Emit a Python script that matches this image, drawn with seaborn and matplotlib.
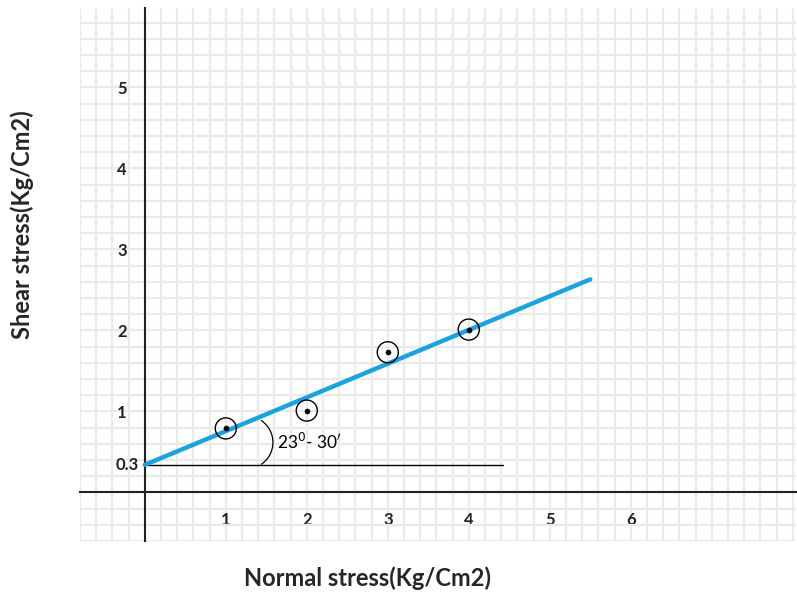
import matplotlib
matplotlib.use("Agg")
import matplotlib.pyplot as plt
from matplotlib.patches import Arc
from matplotlib.ticker import MultipleLocator
import seaborn as sns
import pandas as pd

# test readings
normal_stress = [1, 2, 3, 4]
shear_stress = [0.79, 1.01, 1.73, 2.01]

# failure envelope (drawn by hand in the original)
fit_x = [0, 5.5]
fit_y = [0.34, 2.63]
cohesion = 0.34
base_end = 4.42

x_ticks = [1, 2, 3, 4, 5, 6]
y_ticks = [1, 2, 3, 4, 5]

sns.set_style("white")
plt.rcParams["font.family"] = ["Lato", "DejaVu Sans"]

fig = plt.figure(figsize=(7.97, 5.94), dpi=100)
ax = fig.add_axes([80 / 797, 53 / 594, 716 / 797, 533 / 594])
ax.set_xlim(-0.8, 8.04)
ax.set_ylim(-0.6, 5.98)

# graph paper
ax.xaxis.set_minor_locator(MultipleLocator(0.2))
ax.yaxis.set_minor_locator(MultipleLocator(0.2))
ax.grid(which="both", color="#eaeaea", linewidth=1.6)
ax.set_axisbelow(True)

# axes through the origin
for side in ["top", "right"]:
    ax.spines[side].set_visible(False)
ax.spines["left"].set_position(("data", 0))
ax.spines["bottom"].set_position(("data", 0))
for side in ["left", "bottom"]:
    ax.spines[side].set_color("#222222")
    ax.spines[side].set_linewidth(1.5)
    ax.spines[side].set_zorder(1)

ax.set_xticks(x_ticks)
ax.set_yticks(y_ticks)
ax.set_xticklabels([str(v) for v in x_ticks], fontweight="bold", fontsize=12)
ax.set_yticklabels([str(v) for v in y_ticks], fontweight="bold", fontsize=12)
ax.tick_params(axis="x", which="major", direction="out", length=10, width=1.4,
               color="#222222", pad=4, labelcolor="#222222")
ax.tick_params(axis="y", which="major", direction="out", length=11, width=1.4,
               color="#222222", pad=2, labelcolor="#222222")
ax.tick_params(which="minor", length=0)

# cohesion base line
ax.plot([0, base_end], [cohesion, cohesion], color="black", linewidth=1.0, zorder=2)
ax.text(-0.07, cohesion, "0.3", ha="right", va="center", fontsize=12,
        fontweight="bold", color="#222222")

# envelope
env = pd.DataFrame({"x": fit_x, "y": fit_y})
sns.lineplot(data=env, x="x", y="y", ax=ax, color="#1aa3e0", linewidth=3.2, zorder=3)

# data points: circled dots
pts = pd.DataFrame({"normal": normal_stress, "shear": shear_stress})
sns.scatterplot(data=pts, x="normal", y="shear", ax=ax, s=230, marker="o",
                facecolor="none", edgecolor="black", linewidth=1.0, zorder=4)
sns.scatterplot(data=pts, x="normal", y="shear", ax=ax, s=14, color="black",
                edgecolor="black", zorder=5)

# angle mark
ax.add_patch(Arc((1.257, 0.617), 0.65, 0.65, theta1=-57, theta2=57,
                 color="black", linewidth=0.9, zorder=3))
ax.text(1.63, 0.62, r"23$^{0}$- 30$^{\prime}$", fontsize=12.5, va="center",
        ha="left", color="black")

ax.set_xlabel("")
ax.set_ylabel("")
fig.text(22 / 797, 1 - 225 / 594, "Shear stress(Kg/Cm2)", rotation=90,
         ha="center", va="center", fontsize=17, fontweight="bold")
fig.text(368 / 797, 1 - 578 / 594, "Normal stress(Kg/Cm2)",
         ha="center", va="center", fontsize=17, fontweight="bold")

fig.savefig("out.png", dpi=100, facecolor="white")
